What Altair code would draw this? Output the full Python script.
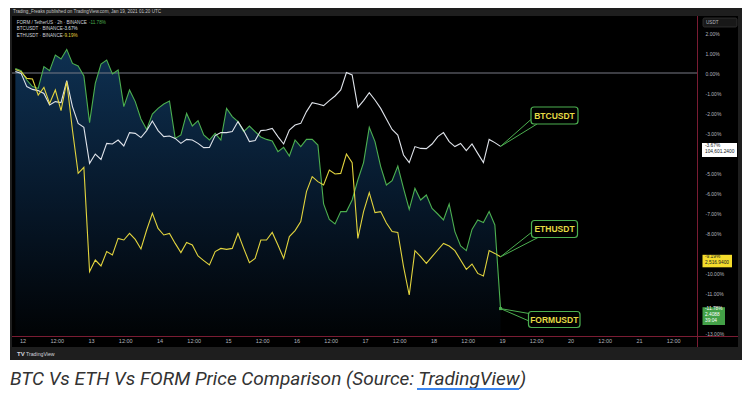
import altair as alt
import pandas as pd

# ---------------- data ----------------
# time axis: hours from Jan 12 00:00, one 2h bar each
hours = [-2.5 + 2 * i for i in range(86)]

form_pct = [0.23, 0.12, -0.35, -0.68, -0.77, 0.32, 0.12, 0.90, 0.70, 1.18, 0.48, 0.35, -0.15, -2.48, -0.52, 0.45, 0.65, -0.05, 0.15, -1.68, -0.85, -1.43, -2.30,
            -2.82, -2.05, -1.77, -1.55, -1.40, -3.27, -3.10, -2.02, -2.65, -2.38, -3.10, -3.35, -3.02, -3.35, -1.77, -2.18, -2.43, -2.93, -2.65, -2.93, -3.20,
            -3.32, -3.40, -3.93, -3.72, -4.15, -3.35, -3.68, -3.32, -3.32, -3.60, -6.55, -7.32, -7.55, -6.93, -6.93, -6.35, -5.35, -4.48, -2.72, -3.43, -4.68,
            -5.60, -5.38, -4.65, -5.77, -6.82, -5.77, -6.35, -6.10, -6.77, -7.05, -7.35, -6.55, -7.93, -8.65, -8.88, -7.82, -7.35, -7.48, -6.93, -7.60, -11.78]

btc_pct = [0.07, -0.02, -0.68, -0.82, -0.88, -1.02, -1.60, -1.43, -1.48, -0.38, -1.68, -2.52, -2.72, -4.52, -4.05, -4.32, -3.52, -3.55, -3.35, -3.65, -2.98, -3.02, -3.23,
           -2.88, -2.40, -2.88, -3.18, -3.15, -3.27, -3.52, -3.32, -3.35, -3.52, -3.73, -3.72, -3.13, -2.98, -2.98, -2.93, -2.43, -2.88, -3.43, -3.38, -2.88,
           -2.85, -2.77, -3.18, -3.55, -2.85, -2.60, -2.52, -1.93, -1.48, -1.55, -1.63, -1.38, -1.15, -0.85, 0.02, -0.10, -1.72, -1.38, -0.98, -1.35, -1.77,
           -2.30, -2.82, -3.10, -4.10, -4.48, -3.68, -3.77, -3.78, -3.55, -3.18, -2.98, -3.43, -3.68, -3.52, -3.88, -3.55, -4.02, -4.48, -3.32, -3.48, -3.67]

eth_pct = [0.18, 0.07, -0.27, -0.30, -1.10, -0.72, -1.52, -0.85, -1.88, -0.43, -2.85, -5.02, -4.72, -9.93, -9.35, -9.65, -8.93, -9.10, -8.27, -8.35, -8.02, -8.32, -8.80,
           -7.85, -7.02, -7.77, -8.10, -8.02, -8.52, -8.98, -8.47, -8.60, -9.15, -9.38, -9.60, -8.93, -8.77, -8.82, -8.77, -8.02, -8.77, -9.48, -9.27, -8.35,
           -8.35, -7.97, -8.60, -9.27, -8.18, -7.88, -7.43, -5.93, -5.18, -5.43, -5.60, -4.85, -5.05, -5.02, -4.05, -4.48, -8.27, -6.93, -5.98, -6.98, -6.93,
           -7.50, -7.93, -7.97, -9.68, -11.10, -8.88, -9.18, -9.52, -9.18, -8.85, -8.52, -8.65, -8.88, -9.35, -9.82, -9.55, -10.02, -10.15, -8.88, -9.02, -9.19]

symbols = ["FORMUSDT", "BTCUSDT", "ETHUSDT"]
end_pct = [-11.78, -3.67, -9.19]
end_price = ["2.4088", "104,601.2400", "2,516.9400"]
legend_names = ["FORM / TetherUS \u00b7 2h \u00b7 BINANCE", "BTCUSDT \u00b7 BINANCE", "ETHUSDT \u00b7 BINANCE"]
x_tick_hours = list(range(0, 229, 12))
y_tick_vals = [2, 1, 0, -1, -2, -3, -5, -6, -7, -8, -10, -11, -13]

header = "Trading_Freaks published on TradingView.com, Jan 19, 2021 01:20 UTC"
caption_main = "BTC Vs ETH Vs FORM Price Comparison (Source: TradingView)"

# ---------------- styling ----------------
GREEN = "#4caf50"
WHITE = "#dfe3ea"
YELLOW = "#e2d43e"
MAROON = "#7a1c33"
GREY_TXT = "#b2b5be"
PANEL = "#1e1e1e"
line_colors = [GREEN, WHITE, YELLOW]

W, H = 685, 320
X_DOM = [-3.68, 236.33]
Y_DOM = [-13.15, 2.85]


def hx(page_x):
    return X_DOM[0] + (page_x - 12) / W * (X_DOM[1] - X_DOM[0])


def vy(page_y):
    return Y_DOM[1] - (page_y - 16) / H * (Y_DOM[1] - Y_DOM[0])


xs = alt.Scale(domain=X_DOM, nice=False, zero=False)
ys = alt.Scale(domain=Y_DOM, nice=False, zero=False)

xaxis = alt.Axis(values=x_tick_hours,
                 labelExpr="datum.value % 24 == 0 ? toString(12 + datum.value / 24) : '12:00'",
                 labelFontSize=5.5, labelColor=GREY_TXT, labelFont="Liberation Sans",
                 labelPadding=2, ticks=False, grid=False, domain=False, title=None,
                 labelFlush=False, labelOverlap=False)
yaxis = alt.Axis(orient="right", values=y_tick_vals,
                 labelExpr="replace(format(datum.value, '.2f'), '\u2212', '-') + '%'",
                 labelFontSize=5, labelColor=GREY_TXT, labelFont="Liberation Sans",
                 labelPadding=8, ticks=False, grid=False, domain=False, title=None,
                 labelAlign="left", labelBaseline="middle", labelFlush=False, labelOverlap=False)


def X(field):
    return alt.X(field, scale=xs, axis=xaxis)


def Y(field):
    return alt.Y(field, scale=ys, axis=yaxis)


df = pd.DataFrame({"t": hours, "FORMUSDT": form_pct, "BTCUSDT": btc_pct, "ETHUSDT": eth_pct})
df["base"] = Y_DOM[0]
long = df.melt("t", value_vars=symbols, var_name="sym", value_name="pct")

ONE = alt.Data(values=[{"a": 1}])


def prect(x, x2, y, y2, **kw):
    return alt.Chart(ONE).mark_rect(**kw).encode(
        x=alt.value(x), x2=alt.value(x2), y=alt.value(y), y2=alt.value(y2))


def ptext(x, y, s, **kw):
    base = dict(font="Liberation Sans", align="left", baseline="middle")
    base.update(kw)
    return alt.Chart(ONE).mark_text(text=s, **base).encode(x=alt.value(x), y=alt.value(y))


def prule(x, x2, y, y2, **kw):
    return alt.Chart(ONE).mark_rule(**kw).encode(
        x=alt.value(x), x2=alt.value(x2), y=alt.value(y), y2=alt.value(y2))


layers = []

# page / panel frame (background of canvas is black)
layers += [
    prect(730, 740, -10, 380, fill="#ffffff"),
    prect(-6, 740, 344, 380, fill="#ffffff"),
    prect(-6, -2, -10, 380, fill="#ffffff"),
    prect(-2, 730, -10, 0, fill=PANEL),
    prect(-2, 730, 331, 344, fill=PANEL),
    prect(-2, 0, -10, 344, fill=PANEL),
    prect(726, 730, -10, 344, fill=PANEL),
]

# gradient area under FORM
area = alt.Chart(df).mark_area(
    interpolate="linear",
    color=alt.Gradient(gradient="linear",
                       stops=[alt.GradientStop(color="#0e3051", offset=0),
                              alt.GradientStop(color="#07192c", offset=0.5),
                              alt.GradientStop(color="#010305", offset=1)],
                       x1=0, x2=0, y1=0, y2=1)
).encode(x=X("t:Q"), y=Y("FORMUSDT:Q"), y2="base:Q")
layers.append(area)

zero = alt.Chart(pd.DataFrame({"z": [0]})).mark_rule(color="#787b86", strokeWidth=1).encode(y=Y("z:Q"))
layers.append(zero)

lines = alt.Chart(long).mark_line(strokeWidth=1.1, interpolate="linear").encode(
    x=X("t:Q"), y=Y("pct:Q"),
    color=alt.Color("sym:N", scale=alt.Scale(domain=symbols, range=line_colors), legend=None),
)
layers.append(lines)

# border lines of the price / time scales
layers += [
    prule(0, 726, 320.5, 320.5, color=MAROON, strokeWidth=1),
    prule(685.5, 685.5, 0, 331, color=MAROON, strokeWidth=1),
]

# callouts
t_end = hours[-1]
boxes = pd.DataFrame({
    "label": ["BTCUSDT", "ETHUSDT", "FORMUSDT"],
    "x1": [hx(531), hx(531.5), hx(528.5)],
    "x2": [hx(578), hx(577.5), hx(580)],
    "y1": [vy(107), vy(220.5), vy(311.5)],
    "y2": [vy(124), vy(237.5), vy(327.5)],
})
boxes["tx"] = (boxes["x1"] + boxes["x2"]) / 2
boxes["ty"] = (boxes["y1"] + boxes["y2"]) / 2
tails = pd.DataFrame({
    "x": [t_end] * 6,
    "y": [end_pct[1]] * 2 + [end_pct[2]] * 2 + [end_pct[0]] * 2,
    "x2": [hx(531.5), hx(537), hx(532), hx(538), hx(529), hx(529)],
    "y2": [vy(119), vy(124), vy(232), vy(237.5), vy(313.5), vy(321)],
})
layers.append(alt.Chart(tails).mark_rule(color=GREEN, strokeWidth=1).encode(
    x=X("x:Q"), y=Y("y:Q"), x2="x2:Q", y2="y2:Q"))
layers.append(alt.Chart(boxes).mark_rect(fill="#000000", stroke=GREEN, strokeWidth=1.2, cornerRadius=3).encode(
    x=X("x1:Q"), x2="x2:Q", y=Y("y1:Q"), y2="y2:Q"))
layers.append(alt.Chart(boxes).mark_text(font="Liberation Sans", fontWeight="bold", fontSize=8.5,
                                         color="#e4da45", baseline="middle").encode(
    x=X("tx:Q"), y=Y("ty:Q"), text="label:N"))

# end marker of FORM
layers.append(alt.Chart(pd.DataFrame({"t": [t_end], "v": [end_pct[0]]})).mark_square(
    size=9, color=GREEN, opacity=1).encode(x=X("t:Q"), y=Y("v:Q")))

# price labels on the right scale
pb = pd.DataFrame({
    "sym": ["BTCUSDT", "ETHUSDT", "FORMUSDT"],
    "x1": [hx(702), hx(702.5), hx(702.5)],
    "x2": [hx(737), hx(732), hx(725)],
    "top": [end_pct[1] + 3.3 / 20, end_pct[2] + 2 / 20, end_pct[0] + 1.4 / 20],
    "bot": [end_pct[1] - 10.5 / 20, end_pct[2] - 10.5 / 20, end_pct[0] - 16.4 / 20],
    "fill": ["#ffffff", "#f4dc2c", "#43a047"],
})
layers.append(alt.Chart(pb).mark_rect().encode(
    x=X("x1:Q"), x2="x2:Q", y=Y("top:Q"), y2="bot:Q",
    fill=alt.Fill("fill:N", scale=None)))
pt_rows = []
for s_pct, price, col, extra in [(end_pct[1], end_price[1], "#131722", None),
                                 (end_pct[2], end_price[2], "#131722", None),
                                 (end_pct[0], end_price[0], "#ffffff", "39:04")]:
    lab = [f"{s_pct:.2f}%", price] + ([extra] if extra else [])
    for k, s in enumerate(lab):
        pt_rows.append({"t": hx(705), "v": s_pct - (k * 6 - 0.1) / 20, "s": s, "c": col})
layers.append(alt.Chart(pd.DataFrame(pt_rows)).mark_text(
    align="left", baseline="middle", fontSize=4.8, font="Liberation Sans").encode(
    x=X("t:Q"), y=Y("v:Q"), text="s:N", color=alt.Color("c:N", scale=None)))

# USDT box
layers += [
    prect(691, 725, 2, 11, fill="#181818", stroke="#3a3a3a", strokeWidth=0.7, cornerRadius=1.5),
    ptext(694, 6.5, "USDT", fontSize=4.6, color=GREY_TXT),
]

# header and legend texts
layers += [
    ptext(1, -3.8, header, fontSize=4.6, color="#c4c4c4"),
    ptext(4.7, 6.7, legend_names[0], fontSize=4.6, color="#d1d4dc"),
    ptext(77, 6.7, f"{end_pct[0]:.2f}%", fontSize=4.6, color=GREEN),
    ptext(4.7, 13.3, legend_names[1], fontSize=4.6, color="#d1d4dc"),
    ptext(51, 13.3, f"{end_pct[1]:.2f}%", fontSize=4.6, color=WHITE),
    ptext(4.7, 19.5, legend_names[2], fontSize=4.6, color="#d1d4dc"),
    ptext(51, 19.5, f"{end_pct[2]:.2f}%", fontSize=4.6, color=YELLOW),
    ptext(5, 338, "TV", fontSize=6, fontWeight="bold", color="#d1d4dc"),
    ptext(14, 338, "TradingView", fontSize=5.2, color="#d1d4dc"),
]

# caption
layers += [
    ptext(-2, 369, caption_main, font="Roboto", fontStyle="italic", fontSize=19,
          color="#333333", baseline="alphabetic"),
    prule(405, 507, 373, 373, color="#3b86f0", strokeWidth=2),
]

chart = alt.layer(*layers).properties(
    width=W, height=H,
    autosize=alt.AutoSizeParams(type="none"),
    padding={"left": 4, "top": 8, "right": 50, "bottom": 54},
    background="#000000",
).configure_view(stroke=None, fill=None)

chart.save("out.html", embed_options={"renderer": "svg", "actions": False})
